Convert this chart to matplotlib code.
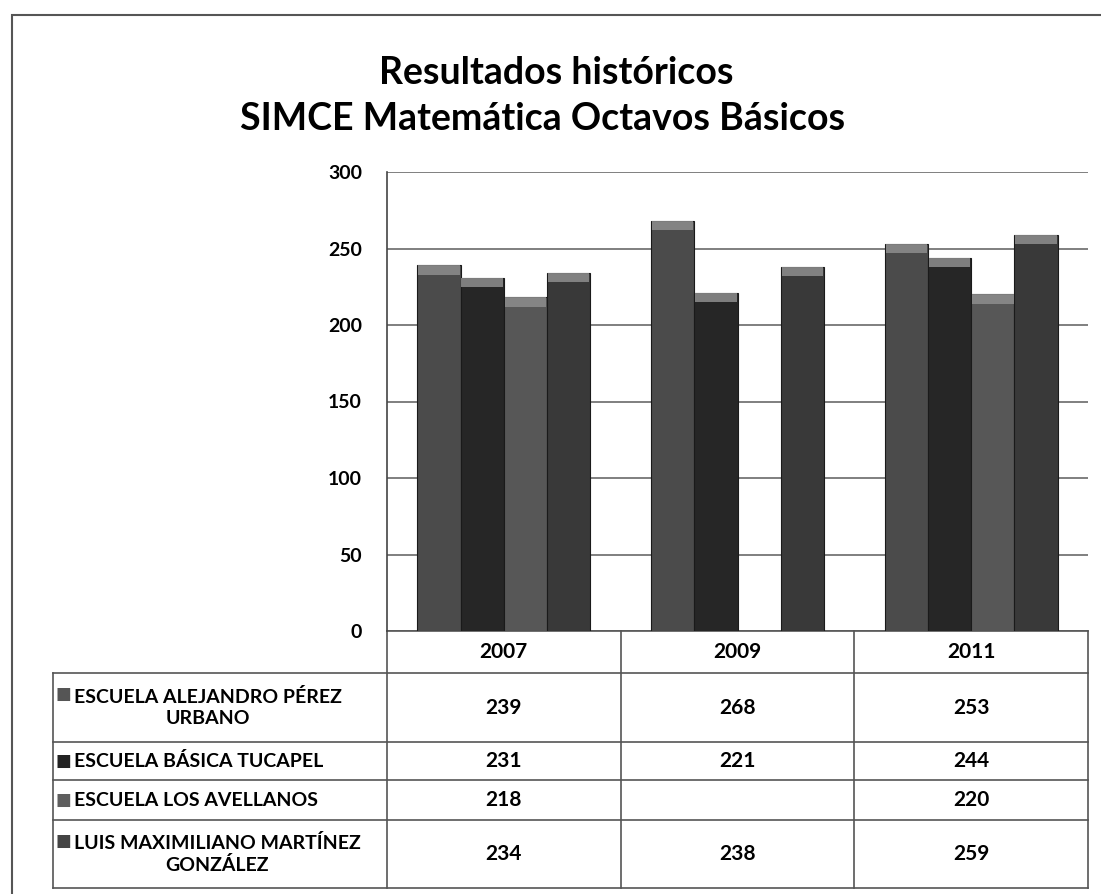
import numpy as np
import matplotlib
matplotlib.use("Agg")
import matplotlib.pyplot as plt
from matplotlib.patches import Rectangle

plt.rcParams["font.family"] = ["Lato", "DejaVu Sans"]
plt.rcParams["font.weight"] = "bold"

# Data
years = ["2007", "2009", "2011"]
schools = [
    "ESCUELA ALEJANDRO PÉREZ\nURBANO",
    "ESCUELA BÁSICA TUCAPEL",
    "ESCUELA LOS AVELLANOS",
    "LUIS MAXIMILIANO MARTÍNEZ\nGONZÁLEZ",
]
perez = [239, 268, 253]
tucapel = [231, 221, 244]
avellanos = [218, None, 220]
martinez = [234, 238, 259]
series = [perez, tucapel, avellanos, martinez]
y_ticks = [0, 50, 100, 150, 200, 250, 300]

colors = ["#4b4b4b", "#262626", "#575757", "#393939"]
key_colors = ["#555555", "#222222", "#5e5e5e", "#444444"]

W, H = 1101, 894
fig = plt.figure(figsize=(W / 100, H / 100), dpi=100)

# pixel layout of the plot area
px_left, px_right, px_top, px_bottom = 387, 1088, 172, 631
ax = fig.add_axes([px_left / W, 1 - px_bottom / H,
                   (px_right - px_left) / W, (px_bottom - px_top) / H])

x = np.arange(len(years))
width = 0.185
offsets = (np.arange(len(series)) - 1.5) * width
cap = 6

for vals, off, col in zip(series, offsets, colors):
    xs = [xi + off for xi, v in zip(x, vals) if v is not None]
    vs = [v for v in vals if v is not None]
    ax.bar(xs, vs, width=width, color=col, edgecolor="#1a1a1a",
           linewidth=0.8, zorder=3)
    # lighter bevel on top of each bar
    ax.bar(xs, [cap] * len(vs), bottom=[v - cap for v in vs], width=width * 0.96,
           color="#8e8e8e", edgecolor="none", alpha=0.85, zorder=4)

ax.set_xlim(-0.5, 2.5)
ax.set_ylim(0, 300)
ax.set_yticks(y_ticks)
ax.set_yticklabels([str(t) for t in y_ticks], fontsize=14, fontweight="bold")
ax.tick_params(axis="y", length=0, pad=18)
ax.set_xticks([])
ax.yaxis.grid(True, color="#6a6a6a", linewidth=1.2, zorder=0)
ax.set_axisbelow(True)
for side in ["top", "right", "bottom"]:
    ax.spines[side].set_visible(False)
ax.spines["left"].set_color("#444444")
ax.spines["left"].set_linewidth(1.2)

# data table drawn below the axes (x in data units, y in axes fraction)
tr = ax.get_xaxis_transform()
ax_h = px_bottom - px_top
unit_px = (px_right - px_left) / 3.0


def yf(py):
    return (px_bottom - py) / ax_h


label_left = -0.5 - (px_left - 53) / unit_px
row_edges = [631, 673, 742, 780, 820, 888]
line_kw = dict(color="#555555", linewidth=1.2, transform=tr, clip_on=False)

# horizontal lines
ax.plot([-0.5, 2.5], [yf(row_edges[0])] * 2, **line_kw)
for py in row_edges[1:]:
    ax.plot([label_left, 2.5], [yf(py)] * 2, **line_kw)
# vertical lines
for xv in [-0.5, 0.5, 1.5, 2.5]:
    ax.plot([xv, xv], [yf(row_edges[0]), yf(row_edges[-1])], **line_kw)
ax.plot([label_left, label_left], [yf(row_edges[1]), yf(row_edges[-1])], **line_kw)

# header
for xi, yr in zip(x, years):
    ax.text(xi, yf((row_edges[0] + row_edges[1]) / 2), yr, transform=tr,
            ha="center", va="center", fontsize=15, fontweight="bold", clip_on=False)

# rows
for r, (name, vals) in enumerate(zip(schools, series)):
    top_py, bot_py = row_edges[r + 1], row_edges[r + 2]
    yc = yf((top_py + bot_py) / 2)
    two_lines = "\n" in name
    key_y = yf(top_py + 21) if two_lines else yc
    ax.text(label_left + 0.01, key_y, "■", transform=tr, ha="left", va="center",
            fontsize=12, color=key_colors[r], clip_on=False,
            family=["DejaVu Sans"])
    ax.text(label_left + 0.09, yc, name, transform=tr, ha="left", va="center",
            multialignment="center", fontsize=14, fontweight="bold",
            linespacing=1.3, clip_on=False)
    for xi, v in zip(x, vals):
        if v is not None:
            ax.text(xi, yc, str(v), transform=tr, ha="center", va="center",
                    fontsize=15, fontweight="bold", clip_on=False)

# title
fig.text(556 / W, 1 - 73 / H, "Resultados históricos", ha="center", va="center",
         fontsize=27, fontweight="bold")
fig.text(543 / W, 1 - 119 / H, "SIMCE Matemática Octavos Básicos", ha="center",
         va="center", fontsize=27, fontweight="bold")

# outer chart frame
fig.patches.append(Rectangle((12 / W, -0.05), 1.1, 1 - 15 / H + 0.05,
                             transform=fig.transFigure, fill=False,
                             edgecolor="#555555", linewidth=1.5))

fig.savefig("out.png", dpi=100)
